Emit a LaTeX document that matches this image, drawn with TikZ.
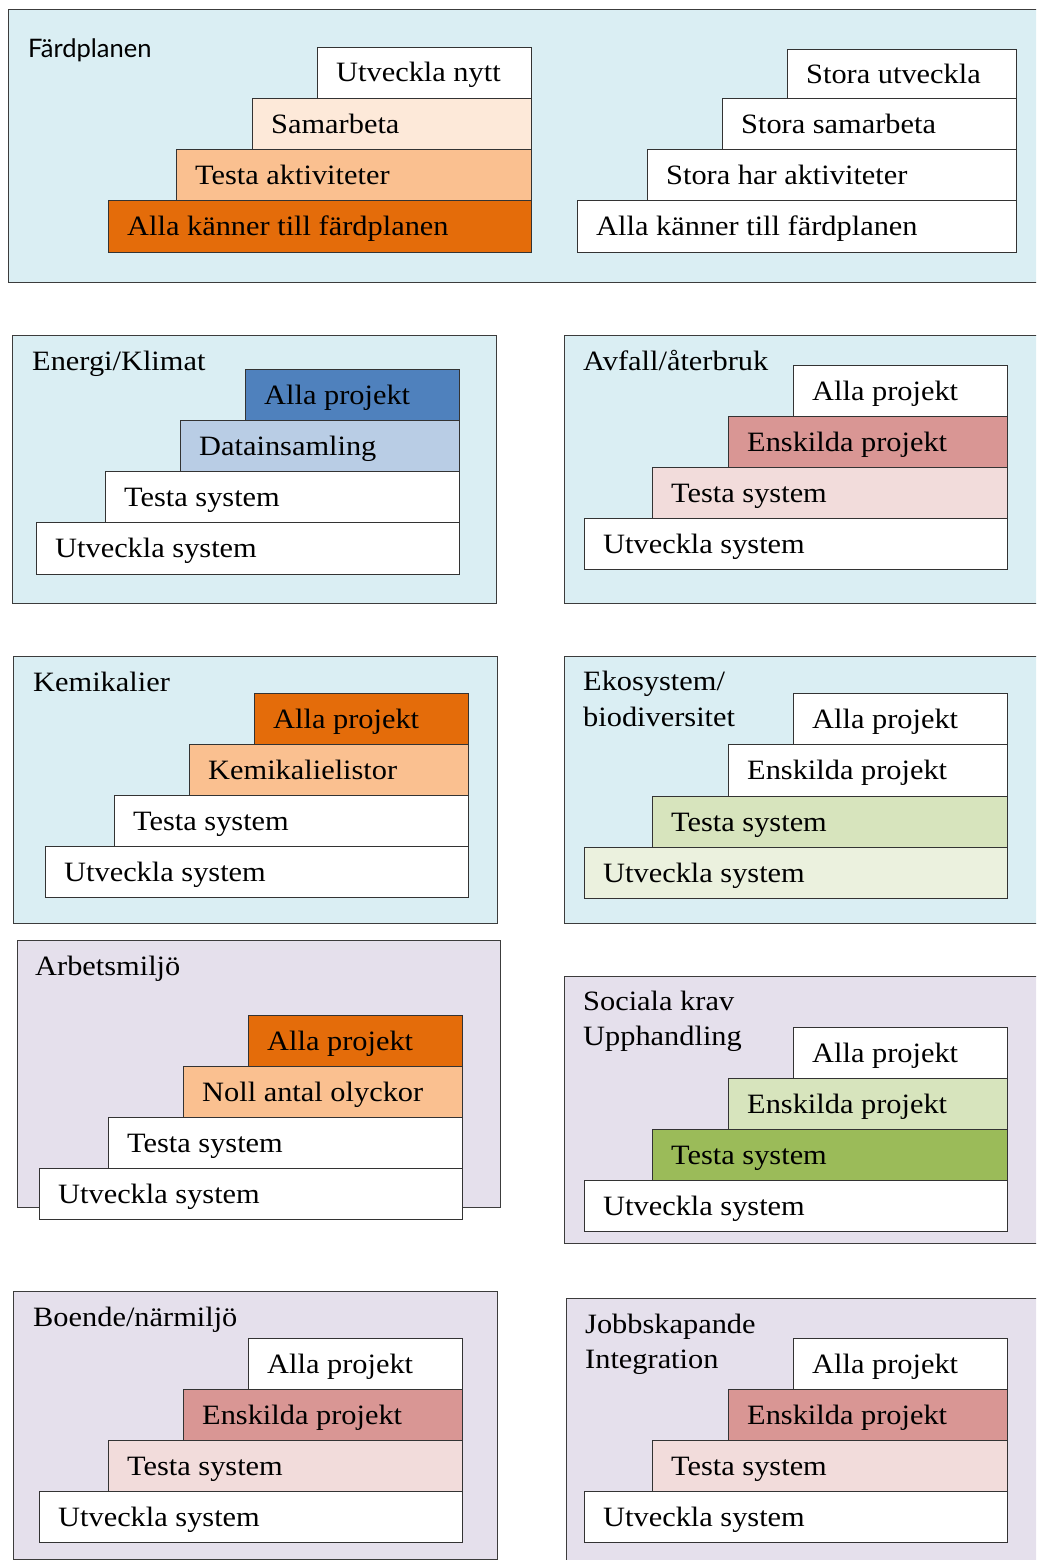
\documentclass[tikz,border=0pt]{standalone}
\usepackage{fontspec}
\setmainfont{Liberation Serif}[FakeStretch=1.085]
\newfontfamily\latofont{Lato}
\definecolor{pblue}{HTML}{DAEEF3}
\definecolor{plav}{HTML}{E5E0EC}
\definecolor{orD}{HTML}{E46C0A}
\definecolor{orL}{HTML}{FAC090}
\definecolor{peach}{HTML}{FDE9D9}
\definecolor{blD}{HTML}{4F81BD}
\definecolor{blL}{HTML}{B9CDE5}
\definecolor{rdD}{HTML}{D99694}
\definecolor{rdL}{HTML}{F2DCDB}
\definecolor{grL}{HTML}{D7E4BD}
\definecolor{grP}{HTML}{EBF1DE}
\definecolor{grD}{HTML}{9BBB59}
\definecolor{lineP}{HTML}{3C3C3C}
\definecolor{lineB}{HTML}{333333}
\tikzset{
  panelst/.style={draw=lineP, line width=1.3pt, inner sep=0pt, anchor=north west},
  stairst/.style={draw=lineB, line width=1.4pt, inner sep=0pt, anchor=north west},
  lbl/.style={inner sep=0pt, anchor=base west, font=\fontsize{28}{34}\selectfont},
  ttl/.style={inner sep=0pt, anchor=base west, font=\fontsize{28}{34}\selectfont},
  ttlsans/.style={inner sep=0pt, anchor=base west, font=\latofont\fontsize{25.5}{30}\selectfont},
}
% name, left, top, right, bottom, fill, text
\newcommand\stair[7]{%
  \node[stairst, fill=#6, minimum width={(#4-#2)*1pt}, minimum height={(#5-#3)*1pt}] (#1) at (#2,#3) {};
  \node[lbl] (#1t) at ([shift={(19,35)}]#1.north west) {#7};
}
% name, left, top, right, bottom, fill
\newcommand\panel[6]{%
  \node[panelst, fill=#6, minimum width={(#4-#2)*1pt}, minimum height={(#5-#3)*1pt}] (#1) at (#2,#3) {};
}
\begin{document}
\begin{tikzpicture}[x=1pt,y=-1pt]
\useasboundingbox (0,0) rectangle (1036,1560);
\clip (0,0) rectangle (1036,1560);
\fill[white] (0,0) rectangle (1036,1560);

% Panel 1
\panel{p1}{8}{9}{1045}{282}{pblue}
\node[ttlsans] (p1t) at (28,58) {Färdplanen};
\stair{a1}{317}{47}{531}{98}{white}{Utveckla nytt}
\stair{a2}{252}{98}{531}{149}{peach}{Samarbeta}
\stair{a3}{176}{149}{531}{200}{orL}{Testa aktiviteter}
\stair{a4}{108}{200}{531}{252}{orD}{Alla känner till färdplanen}
\stair{b1}{787}{49}{1016}{98}{white}{Stora utveckla}
\stair{b2}{722}{98}{1016}{149}{white}{Stora samarbeta}
\stair{b3}{647}{149}{1016}{200}{white}{Stora har aktiviteter}
\stair{b4}{577}{200}{1016}{252}{white}{Alla känner till färdplanen}

% Panel 2
\panel{p2}{12}{335}{496}{603}{pblue}
\node[ttl] (p2t) at (32,370) {Energi/Klimat};
\stair{c1}{245}{369}{459}{420}{blD}{Alla projekt}
\stair{c2}{180}{420}{459}{471}{blL}{Datainsamling}
\stair{c3}{105}{471}{459}{522}{white}{Testa system}
\stair{c4}{36}{522}{459}{574}{white}{Utveckla system}

% Panel 3
\panel{p3}{564}{335}{1045}{603}{pblue}
\node[ttl] (p3t) at (583,370) {Avfall/återbruk};
\stair{d1}{793}{365}{1007}{416}{white}{Alla projekt}
\stair{d2}{728}{416}{1007}{467}{rdD}{Enskilda projekt}
\stair{d3}{652}{467}{1007}{518}{rdL}{Testa system}
\stair{d4}{584}{518}{1007}{569}{white}{Utveckla system}

% Panel 4
\panel{p4}{13}{656}{497}{923}{pblue}
\node[ttl] (p4t) at (33,691) {Kemikalier};
\stair{e1}{254}{693}{468}{744}{orD}{Alla projekt}
\stair{e2}{189}{744}{468}{795}{orL}{Kemikalielistor}
\stair{e3}{114}{795}{468}{846}{white}{Testa system}
\stair{e4}{45}{846}{468}{897}{white}{Utveckla system}

% Panel 5
\panel{p5}{564}{656}{1045}{923}{pblue}
\node[ttl] (p5t) at (583,690) {Ekosystem/};
\node[ttl] (p5u) at (583,726) {biodiversitet};
\stair{f1}{793}{693}{1007}{744}{white}{Alla projekt}
\stair{f2}{728}{744}{1007}{796}{white}{Enskilda projekt}
\stair{f3}{652}{796}{1007}{847}{grL}{Testa system}
\stair{f4}{584}{847}{1007}{898}{grP}{Utveckla system}

% Panel 6
\panel{p6}{17}{940}{500}{1207}{plav}
\node[ttl] (p6t) at (35,975) {Arbetsmiljö};
\stair{g1}{248}{1015}{462}{1066}{orD}{Alla projekt}
\stair{g2}{183}{1066}{462}{1117}{orL}{Noll antal olyckor}
\stair{g3}{108}{1117}{462}{1168}{white}{Testa system}
\stair{g4}{39}{1168}{462}{1219}{white}{Utveckla system}

% Panel 7
\panel{p7}{564}{976}{1045}{1243}{plav}
\node[ttl] (p7t) at (583,1010) {Sociala krav};
\node[ttl] (p7u) at (583,1045) {Upphandling};
\stair{h1}{793}{1027}{1007}{1078}{white}{Alla projekt}
\stair{h2}{728}{1078}{1007}{1129}{grL}{Enskilda projekt}
\stair{h3}{652}{1129}{1007}{1180}{grD}{Testa system}
\stair{h4}{584}{1180}{1007}{1231}{white}{Utveckla system}

% Panel 8
\panel{p8}{13}{1291}{497}{1559}{plav}
\node[ttl] (p8t) at (33,1326) {Boende/närmiljö};
\stair{i1}{248}{1338}{462}{1389}{white}{Alla projekt}
\stair{i2}{183}{1389}{462}{1440}{rdD}{Enskilda projekt}
\stair{i3}{108}{1440}{462}{1491}{rdL}{Testa system}
\stair{i4}{39}{1491}{462}{1542}{white}{Utveckla system}

% Panel 9
\panel{p9}{566}{1298}{1045}{1575}{plav}
\node[ttl] (p9t) at (585,1333) {Jobbskapande};
\node[ttl] (p9u) at (585,1368) {Integration};
\stair{j1}{793}{1338}{1007}{1389}{white}{Alla projekt}
\stair{j2}{728}{1389}{1007}{1440}{rdD}{Enskilda projekt}
\stair{j3}{652}{1440}{1007}{1491}{rdL}{Testa system}
\stair{j4}{584}{1491}{1007}{1542}{white}{Utveckla system}
\end{tikzpicture}
\end{document}
